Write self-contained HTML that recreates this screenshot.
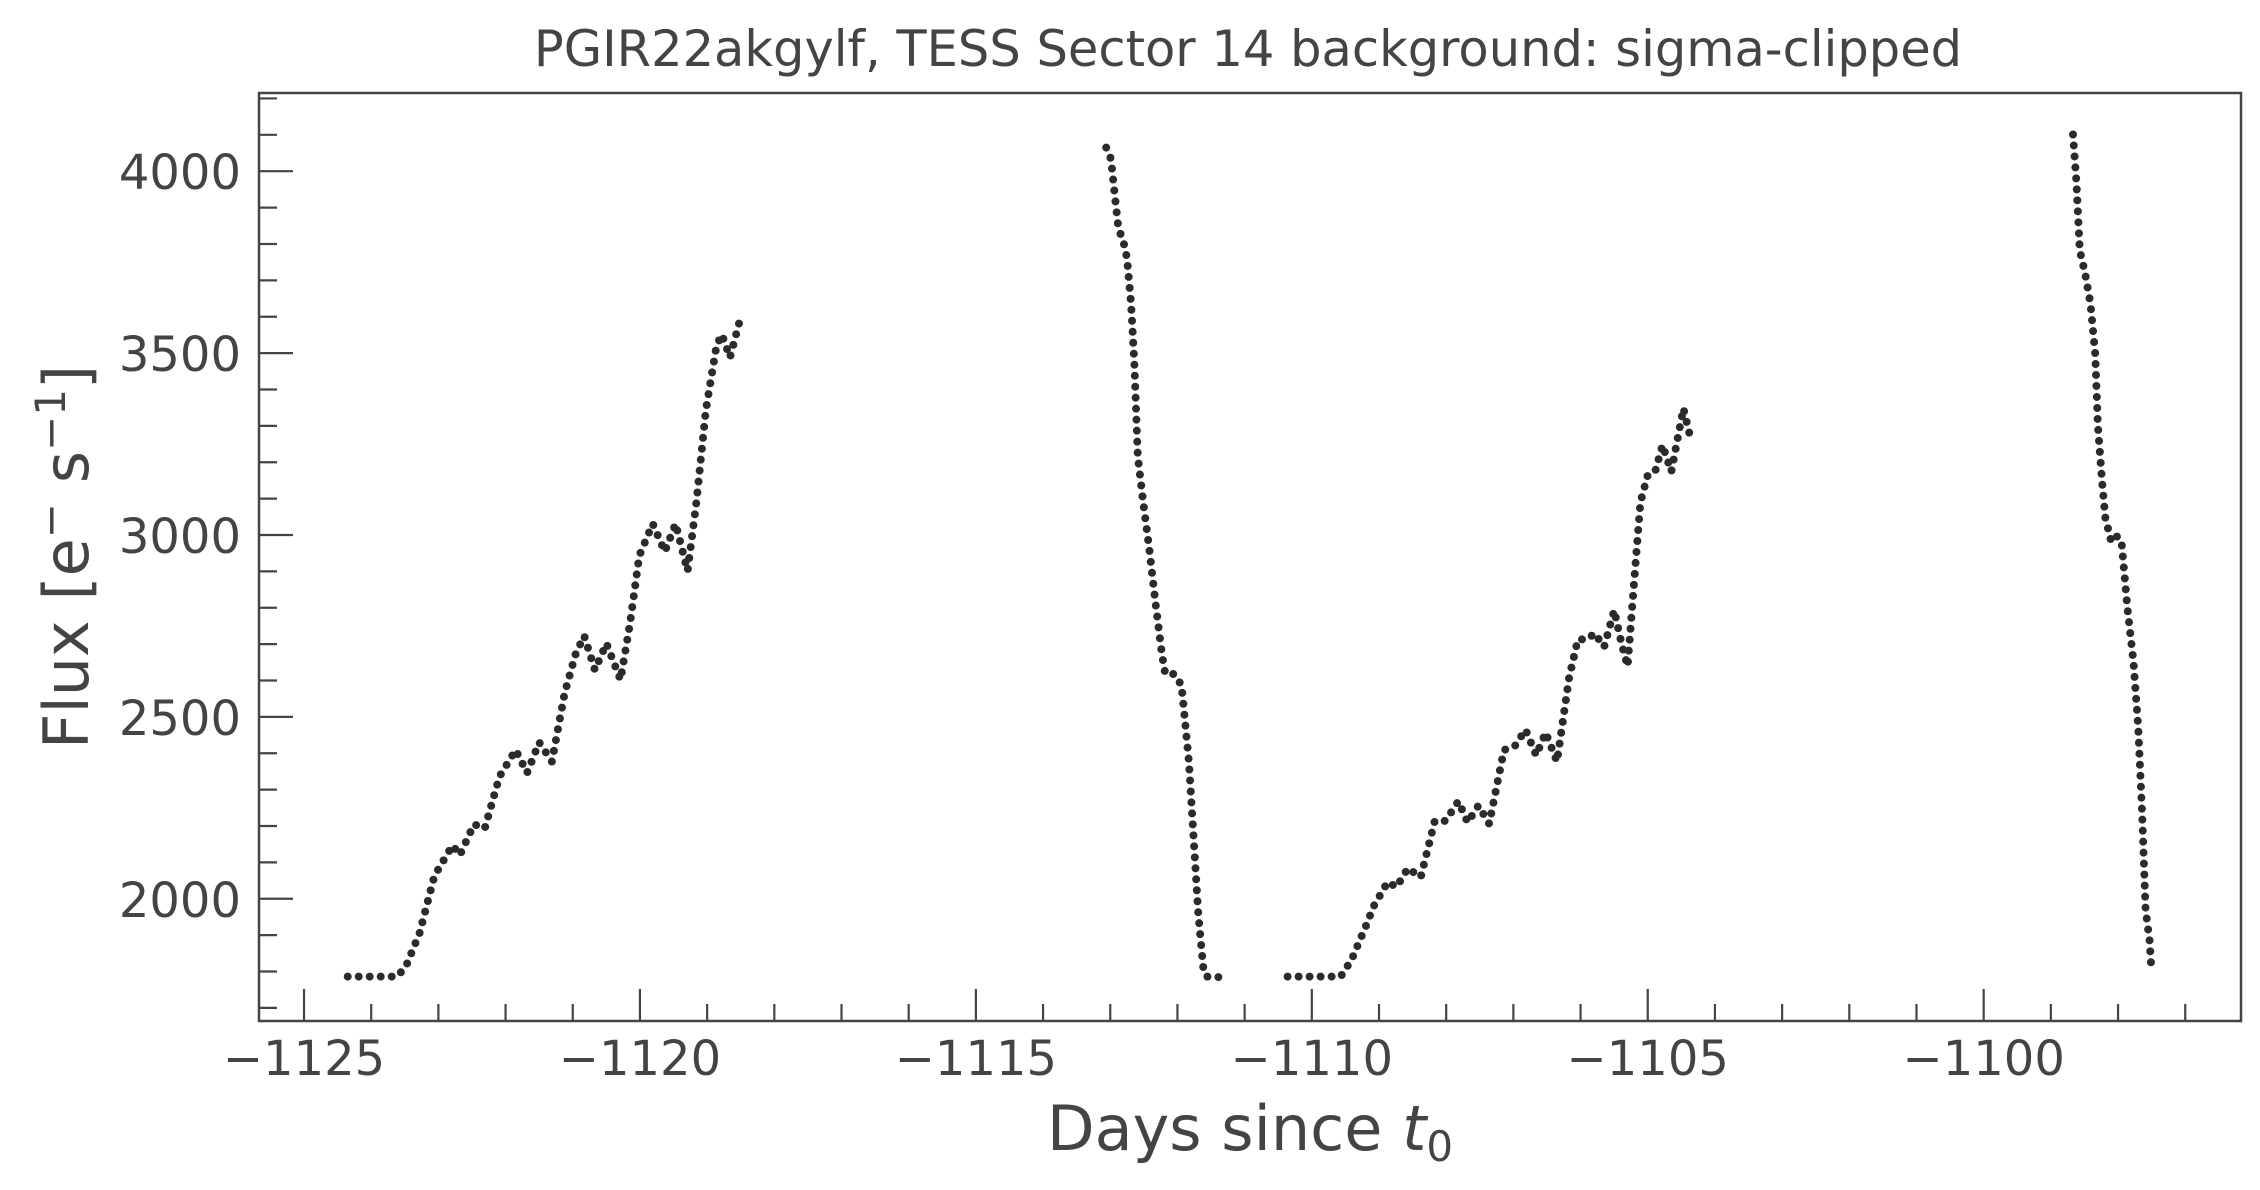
<!DOCTYPE html>
<html><head><meta charset="utf-8"><style>
html,body{margin:0;padding:0;background:#fff;}
svg{display:block;font-family:"DejaVu Sans","Liberation Sans",sans-serif;}
</style></head><body>
<svg id="chart" width="2260" height="1190" viewBox="0 0 2260 1190" xmlns="http://www.w3.org/2000/svg">
<rect width="2260" height="1190" fill="#fff"/>
<text x="1248" y="66" text-anchor="middle" font-size="49.5" fill="#444">PGIR22akgylf, TESS Sector 14 background: sigma-clipped</text>
<g id="ticks"></g>
<g id="marks"></g>
<rect x="259" y="93" width="1982" height="928" fill="none" stroke="#444" stroke-width="2.5"/>
<text x="1250" y="1150" text-anchor="middle" font-size="62" fill="#444">Days since <tspan font-style="italic">t</tspan><tspan font-size="42" dy="11">0</tspan></text>
<text transform="translate(88,557) rotate(-90)" text-anchor="middle" font-size="62" fill="#444">Flux [e<tspan font-size="42" dy="-23">−</tspan><tspan dy="23"> s</tspan><tspan font-size="42" dy="-23">−1</tspan><tspan dy="23">]</tspan></text>
</svg>
<script>
const xTicks = [-1125, -1120, -1115, -1110, -1105, -1100];
const xTickLabels = ["−1125", "−1120", "−1115", "−1110", "−1105", "−1100"];
const yTicks = [2000, 2500, 3000, 3500, 4000];
const yTickLabels = ["2000", "2500", "3000", "3500", "4000"];
const seg1Days = [-1124.35,-1124.2,-1124.0,-1123.8,-1123.62,-1123.49,-1123.28,-1123.06,-1122.79,-1122.68,-1122.47,-1122.31,-1122.09,-1121.85,-1121.68,-1121.5,-1121.31,-1121.12,-1120.96,-1120.83,-1120.67,-1120.5,-1120.29,-1120.15,-1120.01,-1119.81,-1119.63,-1119.47,-1119.29,-1119.16,-1119.02,-1118.86,-1118.78,-1118.66,-1118.51];
const seg1Flux = [1786,1786,1786,1786,1786,1811,1906,2063,2147,2120,2205,2193,2336,2409,2346,2430,2377,2566,2671,2723,2629,2702,2602,2755,2943,3031,2954,3031,2901,3090,3342,3520,3551,3488,3593];
const seg2Days = [-1113.06,-1112.99,-1112.93,-1112.88,-1112.8,-1112.75,-1112.69,-1112.64,-1112.59,-1112.51,-1112.42,-1112.33,-1112.23,-1112.18,-1112.05,-1111.94,-1111.83,-1111.76,-1111.69,-1111.61,-1111.56,-1111.32];
const seg2Flux = [4065,4034,3929,3845,3803,3761,3635,3470,3216,3090,2964,2817,2671,2618,2618,2587,2377,2168,1958,1801,1786,1784];
const seg3Days = [-1110.36,-1110.0,-1109.8,-1109.57,-1109.41,-1109.19,-1109.08,-1108.87,-1108.74,-1108.57,-1108.38,-1108.17,-1108.01,-1107.82,-1107.68,-1107.52,-1107.36,-1107.14,-1106.98,-1106.82,-1106.66,-1106.52,-1106.35,-1106.17,-1106.04,-1105.9,-1105.79,-1105.65,-1105.5,-1105.39,-1105.3,-1105.19,-1105.11,-1105.0,-1104.89,-1104.78,-1104.65,-1104.54,-1104.47,-1104.38];
const seg3Flux = [1786,1786,1786,1786,1832,1927,1979,2046,2032,2084,2059,2214,2214,2268,2210,2256,2206,2409,2419,2465,2394,2457,2377,2608,2713,2713,2730,2692,2793,2702,2639,2902,3090,3164,3174,3247,3174,3279,3348,3279];
const seg4Days = [-1098.67,-1098.62,-1098.57,-1098.49,-1098.41,-1098.34,-1098.3,-1098.24,-1098.19,-1098.1,-1098.02,-1097.95,-1097.86,-1097.77,-1097.7,-1097.64,-1097.59,-1097.53,-1097.5];
const seg4Flux = [4101,3971,3782,3719,3635,3499,3300,3153,3048,2981,2996,2985,2797,2650,2472,2231,1969,1885,1797];

const X0 = 259, X1 = 2241, Y0 = 93, Y1 = 1021;
const xMin = -1125.67, xMax = -1096.17, yMin = 1664, yMax = 4215;
function sx(d){ return X0 + (d - xMin) / (xMax - xMin) * (X1 - X0); }
function sy(f){ return Y1 - (f - yMin) / (yMax - yMin) * (Y1 - Y0); }
const NS = "http://www.w3.org/2000/svg";
const tg = document.getElementById('ticks');
const mg = document.getElementById('marks');
function line(x1,y1,x2,y2,name){
  const l = document.createElementNS(NS,'line');
  l.setAttribute('x1',x1); l.setAttribute('y1',y1); l.setAttribute('x2',x2); l.setAttribute('y2',y2);
  l.setAttribute('stroke','#444'); l.setAttribute('stroke-width','2.2');
  
  
  tg.appendChild(l);
}
function text(x,y,s,anchor,name){
  const t = document.createElementNS(NS,'text');
  t.setAttribute('x',x); t.setAttribute('y',y); t.setAttribute('text-anchor',anchor);
  t.setAttribute('font-size','48'); t.setAttribute('fill','#444');
  t.textContent = s;
  
  
  tg.appendChild(t);
}
for (let d = Math.ceil(xMin); d <= xMax; d++) {
  const major = xTicks.indexOf(d) >= 0;
  line(sx(d), Y1, sx(d), Y1 - (major ? 32 : 17), major ? 'x-major-tick' : 'x-minor-tick');
}
xTicks.forEach((d,i) => text(sx(d), 1075, xTickLabels[i], 'middle', 'x-tick-label'));
for (let f = Math.ceil(yMin/100)*100; f <= yMax; f += 100) {
  const major = yTicks.indexOf(f) >= 0;
  line(X0, sy(f), X0 + (major ? 34 : 18), sy(f), major ? 'y-major-tick' : 'y-minor-tick');
}
yTicks.forEach((f,i) => text(241, sy(f) + 18, yTickLabels[i], 'end', 'y-tick-label'));

function series(days, flux, name){
  const p = document.createElementNS(NS,'polyline');
  p.setAttribute('points', days.map((d,i) => sx(d).toFixed(1)+','+sy(flux[i]).toFixed(1)).join(' '));
  p.setAttribute('fill','none'); p.setAttribute('stroke','#2b2b2b'); p.setAttribute('stroke-width','8');
  p.setAttribute('stroke-linecap','round'); p.setAttribute('stroke-linejoin','round');
  p.setAttribute('stroke-dasharray','0 11');
  
  
  mg.appendChild(p);
}
series(seg1Days, seg1Flux, 'segment-1-points');
series(seg2Days, seg2Flux, 'segment-2-points');
series(seg3Days, seg3Flux, 'segment-3-points');
series(seg4Days, seg4Flux, 'segment-4-points');
</script>
</body></html>
